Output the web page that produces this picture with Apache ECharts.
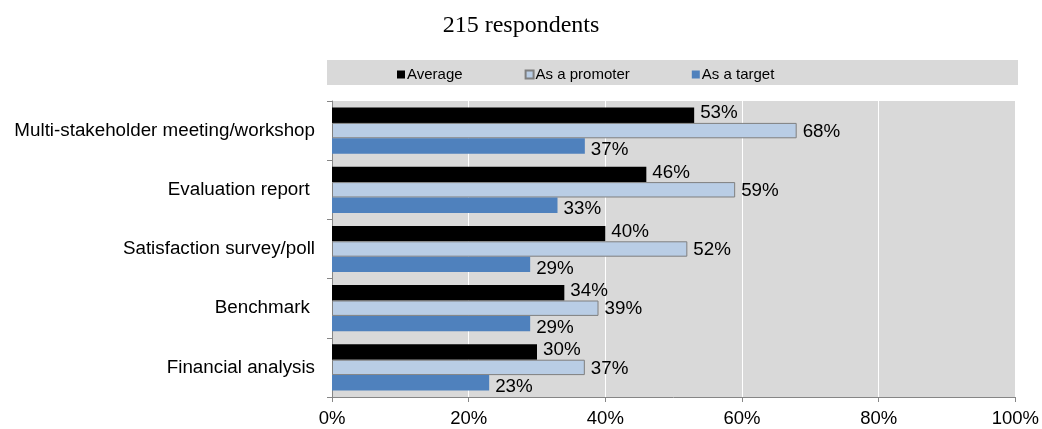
<!DOCTYPE html>
<html>
<head>
<meta charset="utf-8">
<script src="https://cdn.jsdelivr.net/npm/echarts@6/dist/echarts.min.js"></script>
<style>
  html, body { margin: 0; padding: 0; background: #ffffff; }
  #chart { width: 1042px; height: 429px; }
</style>
</head>
<body>
<div id="chart"></div>
<script>
// Survey categories, top to bottom
const categories = [
  'Multi-stakeholder meeting/workshop',
  'Evaluation report ',
  'Satisfaction survey/poll',
  'Benchmark ',
  'Financial analysis'
];
// Shares in percent
const averageValues = [53, 46, 40, 34, 30];
const promoterValues = [68, 59, 52, 39, 37];
const targetValues = [37, 33, 29, 29, 23];
const xTicks = [0, 20, 40, 60, 80, 100];

const FONT = '"Liberation Sans", Arial, sans-serif';

const chart = echarts.init(document.getElementById('chart'), null, { renderer: 'canvas' });

function barLabel(offsetY) {
  return {
    show: true,
    position: 'right',
    distance: 6,
    offset: [0, offsetY],
    formatter: '{c}%',
    color: '#000',
    fontFamily: FONT,
    fontSize: 18.8
  };
}

chart.setOption({
  animation: false,
  backgroundColor: '#ffffff',
  title: {
    text: '215 respondents',
    left: 'center',
    top: 9,
    textStyle: {
      fontFamily: '"Liberation Serif", "Times New Roman", serif',
      fontWeight: 'normal',
      fontSize: 24,
      color: '#000'
    }
  },
  graphic: [{
    type: 'rect',
    z: -1,
    shape: { x: 327, y: 60, width: 691, height: 25 },
    style: { fill: '#d9d9d9' }
  }],
  legend: {
    left: 392,
    top: 62,
    itemWidth: 8,
    itemHeight: 8,
    itemGap: 62,
    icon: 'rect',
    textStyle: { fontFamily: FONT, fontSize: 15, color: '#000', padding: [0, 0, 0, -3] },
    data: ['Average', 'As a promoter', 'As a target']
  },
  grid: {
    left: 332,
    right: 25,
    top: 101,
    bottom: 32,
    show: true,
    backgroundColor: '#d9d9d9',
    borderWidth: 0
  },
  xAxis: {
    type: 'value',
    min: xTicks[0],
    max: xTicks[xTicks.length - 1],
    interval: 20,
    axisLine: { show: true, lineStyle: { color: '#868686', width: 1 } },
    axisTick: { show: true, length: 5, lineStyle: { color: '#868686' } },
    splitLine: { show: true, lineStyle: { color: '#ffffff', width: 1 } },
    axisLabel: {
      formatter: '{value}%',
      fontFamily: FONT,
      fontSize: 18.5,
      color: '#000',
      margin: 12
    }
  },
  yAxis: {
    type: 'category',
    inverse: true,
    data: categories,
    axisLine: { show: true, lineStyle: { color: '#868686', width: 1 } },
    axisTick: { show: true, length: 5, alignWithLabel: false, lineStyle: { color: '#868686' } },
    axisLabel: {
      fontFamily: FONT,
      fontSize: 18.8,
      color: '#000',
      margin: 17
    }
  },
  series: [
    {
      name: 'Average',
      type: 'bar',
      data: averageValues,
      barCategoryGap: '22%',
      barGap: '0%',
      itemStyle: { color: '#000000' },
      label: barLabel(-2)
    },
    {
      name: 'As a promoter',
      type: 'bar',
      data: promoterValues,
      barCategoryGap: '22%',
      barGap: '0%',
      itemStyle: { color: '#b9cde5', borderColor: '#7f7f7f', borderWidth: 1 },
      label: barLabel(1)
    },
    {
      name: 'As a target',
      type: 'bar',
      data: targetValues,
      barCategoryGap: '22%',
      barGap: '0%',
      itemStyle: { color: '#4f81bd' },
      label: barLabel(4)
    }
  ]
});
</script>
</body>
</html>
